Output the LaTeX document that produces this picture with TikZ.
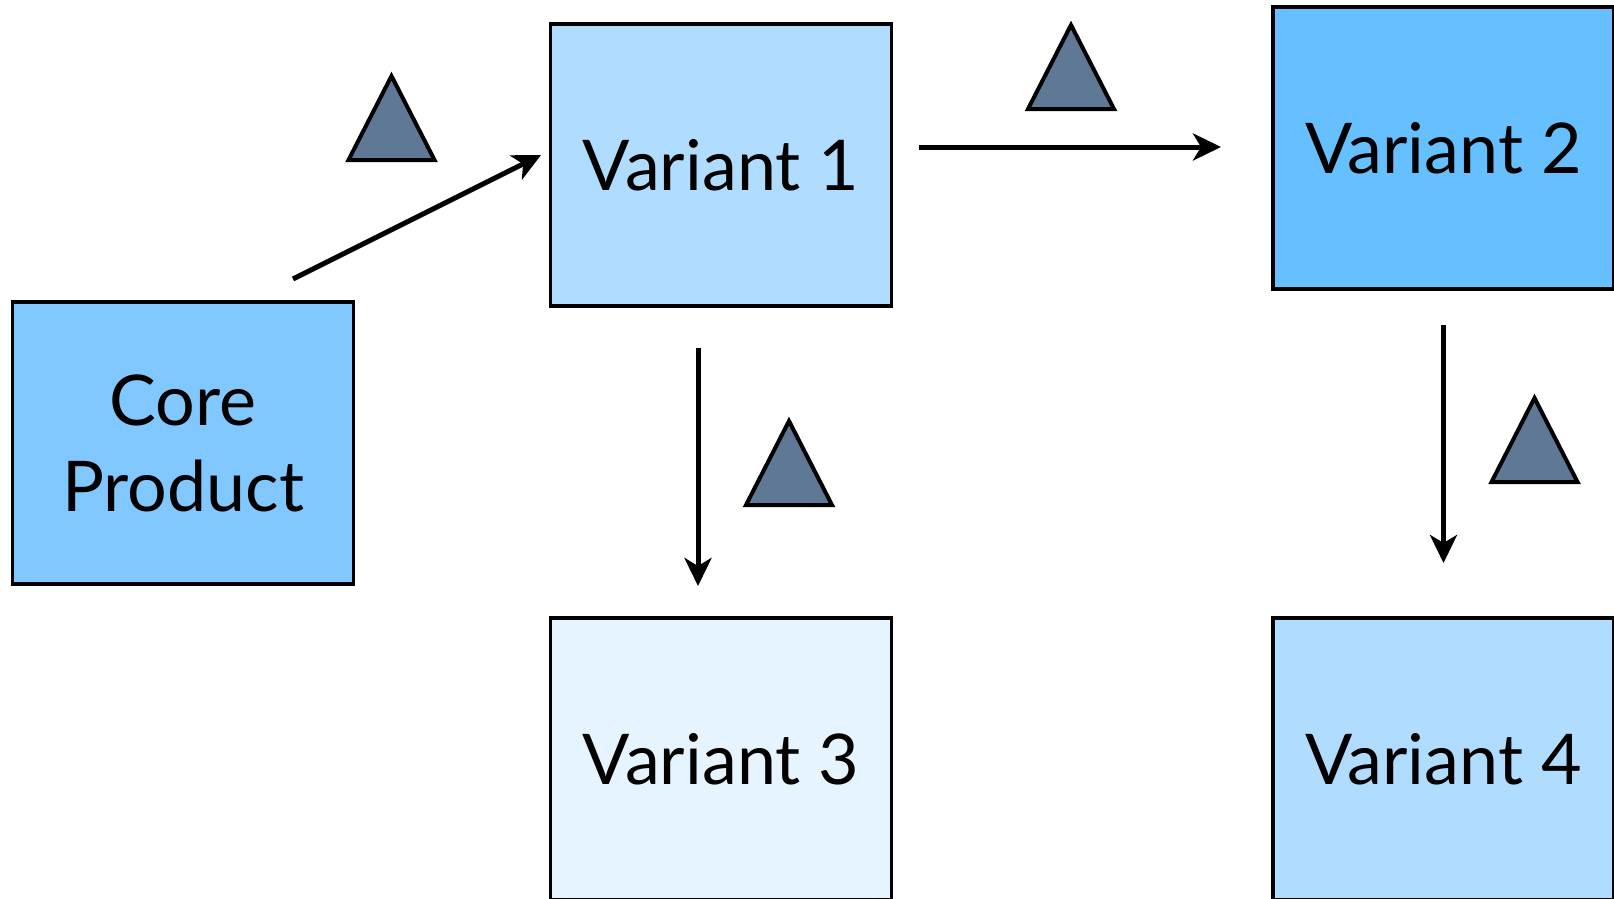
\documentclass[tikz,border=0pt]{standalone}
\usepackage{fontspec}
\setmainfont{Lato}
\usetikzlibrary{arrows.meta}
\definecolor{coreblue}{HTML}{80C8FF}
\definecolor{vone}{HTML}{B0DCFF}
\definecolor{vtwo}{HTML}{66BFFF}
\definecolor{vthree}{HTML}{E6F4FF}
\definecolor{trifill}{HTML}{5F7896}
\tikzset{
  box/.style={draw=black, line width=3.5pt, minimum width=341pt, minimum height=282pt,
    inner sep=0pt, outer sep=0pt, font=\fontsize{70}{86}\selectfont, align=center},
  conn/.style={line width=5pt, -{Stealth[length=28pt,width=27pt,inset=8pt]}},
  tri/.style={draw=black, line width=4pt, fill=trifill, line join=miter}
}
\begin{document}
\begin{tikzpicture}[x=1pt,y=-1pt]
\useasboundingbox (0,0) rectangle (1614,899);
\node[box, fill=coreblue] (core) at (183,443) {Core\\Product};
\node[box, fill=vone] (v1) at (721,165) {Variant 1};
\node[box, fill=vtwo] (v2) at (1443.5,148) {Variant 2};
\node[box, fill=vthree] (v3) at (721,759) {Variant 3};
\node[box, fill=vone] (v4) at (1443.5,759) {Variant 4};
% connectors
\coordinate (a1s) at (293,279);
\coordinate (a1e) at (541,155);
\coordinate (a2s) at (919,147);
\coordinate (a2e) at (1221,147);
\coordinate (a3s) at (698,348);
\coordinate (a3e) at (698,586);
\coordinate (a4s) at (1443.5,325);
\coordinate (a4e) at (1443.5,563);
\draw[conn] (a1s) -- (a1e);
\draw[conn] (a2s) -- (a2e);
\draw[conn] (a3s) -- (a3e);
\draw[conn] (a4s) -- (a4e);
% triangles
\draw[tri] (391.5,76) -- (348.5,160) -- (434.5,160) -- cycle;
\draw[tri] (1071,25) -- (1028,109) -- (1114,109) -- cycle;
\draw[tri] (789,421) -- (746,505) -- (832,505) -- cycle;
\draw[tri] (1534.5,398) -- (1491.5,482) -- (1577.5,482) -- cycle;
\end{tikzpicture}
\end{document}
